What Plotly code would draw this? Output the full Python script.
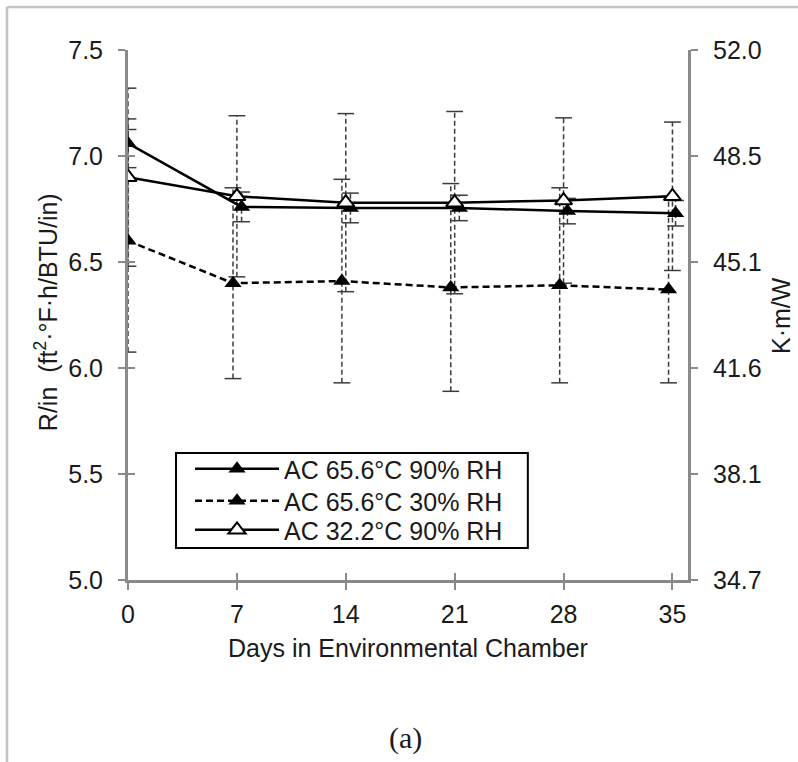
import plotly.graph_objects as go

# Days in the environmental chamber (tick positions)
days = [0, 7, 14, 21, 28, 35]

# Measurement days per series (series are staggered slightly so bars stay readable)
days_656_90 = [0, 7.3, 14.3, 21.3, 28.25, 35.2]
days_656_30 = [0, 6.75, 13.75, 20.75, 27.75, 34.75]
days_322_90 = [0, 7, 14, 21, 28, 35]

# R/in values, ft2·°F·h/BTU/in, with +/- error
r_656_90 = [7.06, 6.76, 6.755, 6.755, 6.74, 6.73]
err_656_90 = [0.115, 0.07, 0.07, 0.06, 0.06, 0.06]

r_656_30 = [6.60, 6.40, 6.41, 6.38, 6.39, 6.37]
err_656_30 = [0.525, 0.45, 0.48, 0.49, 0.46, 0.44]

r_322_90 = [6.90, 6.81, 6.78, 6.78, 6.79, 6.81]
err_322_90 = [0.42, 0.38, 0.42, 0.43, 0.39, 0.35]

series_names = ["AC 65.6°C 90% RH", "AC 65.6°C 30% RH", "AC 32.2°C 90% RH"]

# Left axis ticks and the matching SI (K·m/W) labels on the right axis
left_ticks = [5.0, 5.5, 6.0, 6.5, 7.0, 7.5]
left_tick_text = ["5.0", "5.5", "6.0", "6.5", "7.0", "7.5"]
right_tick_text = ["34.7", "38.1", "41.6", "45.1", "48.5", "52.0"]
IP_TO_SI = 6.933  # ft2·°F·h/BTU/in -> K·m/W

FONT = "Liberation Sans, Arial, sans-serif"
FS = 25
TXT = "#1a1a1a"
AX = "#8a8a8a"
ERR = "#3c3c3c"

fig = go.Figure()


def add_error_bars(x, y, e):
    xs, ys, cx, cy = [], [], [], []
    for xi, yi, ei in zip(x, y, e):
        xs += [xi, xi, None]
        ys += [yi - ei, yi + ei, None]
        cx += [xi, xi]
        cy += [yi - ei, yi + ei]
    fig.add_trace(go.Scatter(
        x=xs, y=ys, mode="lines", showlegend=False, hoverinfo="skip",
        line=dict(color=ERR, width=1.5, dash="5px,3px"),
    ))
    fig.add_trace(go.Scatter(
        x=cx, y=cy, mode="markers", showlegend=False, hoverinfo="skip",
        marker=dict(symbol="line-ew", size=12, line=dict(color=ERR, width=1.5)),
    ))


add_error_bars(days_656_30, r_656_30, err_656_30)
add_error_bars(days_322_90, r_322_90, err_322_90)
add_error_bars(days_656_90, r_656_90, err_656_90)

fig.add_trace(go.Scatter(
    x=days_656_90, y=r_656_90, mode="lines+markers", name=series_names[0],
    line=dict(color="black", width=2.5),
    marker=dict(symbol="triangle-up", size=15, color="black"),
    legend="legend",
))
fig.add_trace(go.Scatter(
    x=days_656_30, y=r_656_30, mode="lines+markers", name=series_names[1],
    line=dict(color="black", width=2.5, dash="7px,4px"),
    marker=dict(symbol="triangle-up", size=15, color="black"),
    legend="legend2",
))
fig.add_trace(go.Scatter(
    x=days_322_90, y=r_322_90, mode="lines+markers", name=series_names[2],
    line=dict(color="black", width=2.5),
    marker=dict(symbol="triangle-up", size=15, color="white",
                line=dict(color="black", width=2)),
    legend="legend3",
))

# Hidden carriers so the secondary axes (SI scale, crossing ticks) are drawn
fig.add_trace(go.Scatter(
    x=days_322_90, y=[v * IP_TO_SI for v in r_322_90], yaxis="y2",
    mode="markers", marker=dict(opacity=0), showlegend=False, hoverinfo="skip",
))
fig.add_trace(go.Scatter(
    x=days_322_90, y=r_322_90, xaxis="x2",
    mode="markers", marker=dict(opacity=0), showlegend=False, hoverinfo="skip",
))
fig.add_trace(go.Scatter(
    x=days_322_90, y=r_322_90, yaxis="y3",
    mode="markers", marker=dict(opacity=0), showlegend=False, hoverinfo="skip",
))

tickfont = dict(family=FONT, size=FS, color=TXT)
y_lo, y_hi = left_ticks[0], left_ticks[-1]
legend_style = dict(
    xanchor="left", yanchor="middle", bgcolor="rgba(0,0,0,0)", borderwidth=0,
    font=dict(family=FONT, size=FS, color=TXT), itemwidth=84,
)

fig.update_layout(
    width=798, height=762, autosize=False,
    margin=dict(l=128, r=110, t=50, b=182, pad=0),
    paper_bgcolor="white", plot_bgcolor="white",
    font=dict(family=FONT, size=FS, color=TXT),
    xaxis=dict(
        range=[0, 36], tickvals=days, ticktext=[str(d) for d in days],
        showline=True, linecolor=AX, linewidth=3, showgrid=False, zeroline=False,
        ticks="outside", ticklen=7, tickwidth=2, tickcolor=AX,
        tickfont=tickfont, ticklabelstandoff=3,
    ),
    xaxis2=dict(
        overlaying="x", anchor="y", side="bottom", range=[0, 36], tickvals=days,
        showticklabels=False, showline=False, showgrid=False, zeroline=False,
        ticks="inside", ticklen=7, tickwidth=2, tickcolor=AX,
    ),
    yaxis=dict(
        range=[y_lo, y_hi], tickvals=left_ticks, ticktext=left_tick_text,
        showline=True, linecolor=AX, linewidth=3, showgrid=False, zeroline=False,
        ticks="outside", ticklen=7, tickwidth=2, tickcolor=AX,
        tickfont=tickfont, ticklabelstandoff=10,
    ),
    yaxis3=dict(
        overlaying="y", anchor="x", side="left", range=[y_lo, y_hi],
        tickvals=left_ticks, showticklabels=False, showline=False,
        showgrid=False, zeroline=False,
        ticks="inside", ticklen=7, tickwidth=2, tickcolor=AX,
    ),
    yaxis2=dict(
        overlaying="y", anchor="x", side="right",
        range=[y_lo * IP_TO_SI, y_hi * IP_TO_SI],
        tickvals=[v * IP_TO_SI for v in left_ticks], ticktext=right_tick_text,
        showline=True, linecolor=AX, linewidth=3, showgrid=False, zeroline=False,
        ticks="outside", ticklen=7, tickwidth=2, tickcolor=AX,
        tickfont=tickfont, ticklabelstandoff=10,
    ),
    legend=dict(x=0.1107, y=0.2094, **legend_style),
    legend2=dict(x=0.1107, y=0.149, **legend_style),
    legend3=dict(x=0.1107, y=0.0943, **legend_style),
    showlegend=True,
)

# Legend frame
fig.add_shape(type="rect", xref="paper", yref="paper",
              x0=0.0857, x1=0.714, y0=0.0604, y1=0.2396, layer="above",
              line=dict(color="black", width=2), fillcolor="white")

# Axis titles and caption
fig.add_annotation(
    text="R/in\u00a0\u00a0(ft<sup>2</sup>·°F·h/BTU/in)", textangle=-90,
    xref="paper", yref="paper", x=-0.145, y=0.505, xanchor="center", yanchor="middle",
    showarrow=False, font=dict(family=FONT, size=FS, color=TXT),
)
fig.add_annotation(
    text="K·m/W", textangle=-90,
    xref="paper", yref="paper", x=1.166, y=0.5, xanchor="center", yanchor="middle",
    showarrow=False, font=dict(family=FONT, size=FS, color=TXT),
)
fig.add_annotation(
    text="Days in Environmental Chamber",
    xref="paper", yref="paper", x=0.5, y=-0.128, xanchor="center", yanchor="middle",
    showarrow=False, font=dict(family=FONT, size=FS, color=TXT),
)
fig.add_annotation(
    text="(a)",
    xref="paper", yref="paper", x=0.495, y=-0.298, xanchor="center", yanchor="middle",
    showarrow=False, font=dict(family="Liberation Serif, DejaVu Serif, serif", size=30, color=TXT),
)

# Light frame around the figure (left and top edges)
fig.add_shape(type="line", xref="paper", yref="paper",
              x0=-0.216, x1=-0.216, y0=1.081, y1=-0.35,
              line=dict(color="#c4c4c4", width=2.5))
fig.add_shape(type="line", xref="paper", yref="paper",
              x0=-0.216, x1=1.2, y0=1.081, y1=1.081,
              line=dict(color="#c4c4c4", width=2.5))

fig.write_html("out.html")
